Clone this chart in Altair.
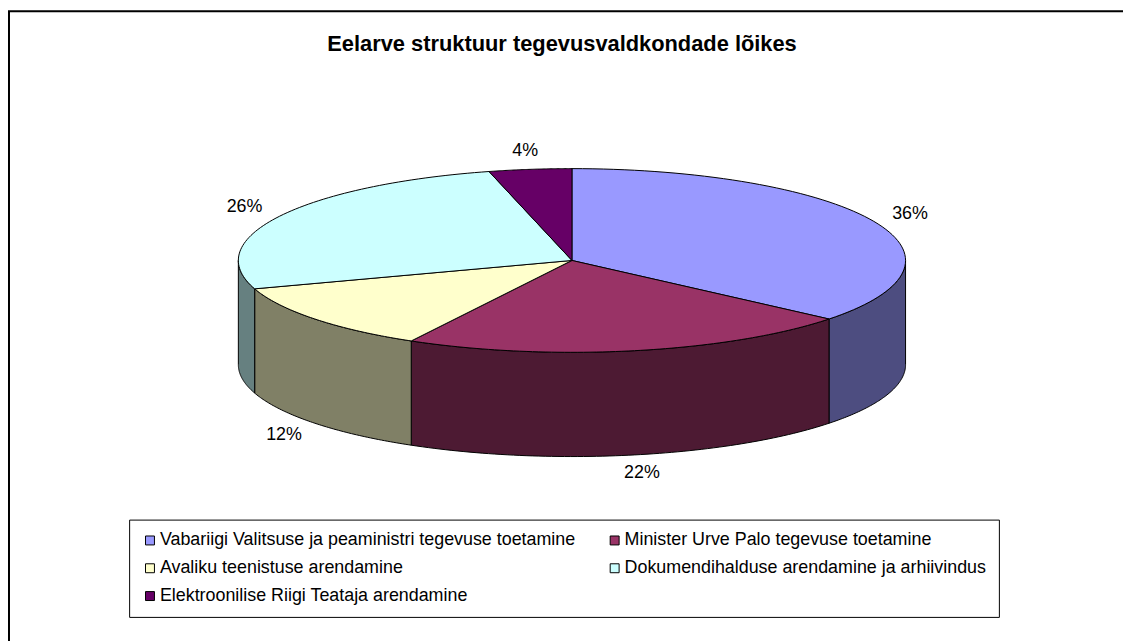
import altair as alt
import pandas as pd

title_text = "Eelarve struktuur tegevusvaldkondade lõikes"
categories = [
    "Vabariigi Valitsuse ja peaministri tegevuse toetamine",
    "Minister Urve Palo tegevuse toetamine",
    "Avaliku teenistuse arendamine",
    "Dokumendihalduse arendamine ja arhiivindus",
    "Elektroonilise Riigi Teataja arendamine",
]
values = [36, 22, 12, 26, 4]
top_colors = ["#9999FF", "#993366", "#FFFFCC", "#CCFFFF", "#660066"]
side_colors = ["#4D4D80", "#4D1A33", "#808066", "#668080", "#330033"]

FONT = "Liberation Sans, Arial, sans-serif"
N = 72          # points per arc
DEPTH = 1.135   # pie thickness in units of the vertical radius

df = pd.DataFrame({"cat": categories, "value": values, "k": list(range(len(values)))})

W, H = 1140, 650
CX, CY, RX, RY = 567.0, 251.0, 336.0, 92.5
xscale = alt.Scale(domain=[(0 - CX) / RX, (W - CX) / RX], nice=False, zero=False)
yscale = alt.Scale(domain=[(CY - H) / RY, CY / RY], nice=False, zero=False)

base = (
    alt.Chart(df)
    .transform_window(cum="sum(value)", sort=[alt.SortField("k")])
    .transform_joinaggregate(total="sum(value)")
    .transform_calculate(
        a0="2*PI*(datum.cum-datum.value)/datum.total",
        a1="2*PI*datum.cum/datum.total",
    )
)

# side faces (front half only)
side = (
    base.transform_calculate(b0="max(datum.a0, PI/2)", b1="min(datum.a1, 3*PI/2)")
    .transform_filter("datum.b1 > datum.b0")
    .transform_calculate(idx=f"sequence(0, {2 * N + 3})")
    .transform_flatten(["idx"])
    .transform_calculate(
        t=f"datum.idx <= {N} ? datum.idx/{N} : (datum.idx <= {2 * N + 1} ? ({2 * N + 1}-datum.idx)/{N} : 0)",
    )
    .transform_calculate(ang="datum.b0 + datum.t*(datum.b1-datum.b0)")
    .transform_calculate(
        px="sin(datum.ang)",
        py=f"cos(datum.ang) - ((datum.idx > {N} && datum.idx <= {2 * N + 1}) ? {DEPTH} : 0)",
    )
    .mark_line(stroke="black", strokeWidth=1, strokeJoin="round")
    .encode(
        x=alt.X("px:Q", scale=xscale, axis=None),
        y=alt.Y("py:Q", scale=yscale, axis=None),
        order=alt.Order("idx:Q"),
        detail="cat:N",
        fill=alt.Fill("cat:N", scale=alt.Scale(domain=categories, range=side_colors), legend=None),
    )
)

# top faces
top = (
    base.transform_calculate(idx=f"sequence(0, {N + 3})")
    .transform_flatten(["idx"])
    .transform_calculate(ang=f"datum.a0 + (datum.idx-1)/{N}*(datum.a1-datum.a0)")
    .transform_calculate(
        px=f"(datum.idx == 0 || datum.idx == {N + 2}) ? 0 : sin(datum.ang)",
        py=f"(datum.idx == 0 || datum.idx == {N + 2}) ? 0 : cos(datum.ang)",
    )
    .mark_line(stroke="black", strokeWidth=1, strokeJoin="round")
    .encode(
        x=alt.X("px:Q", scale=xscale, axis=None),
        y=alt.Y("py:Q", scale=yscale, axis=None),
        order=alt.Order("idx:Q"),
        detail="cat:N",
        fill=alt.Fill(
            "cat:N",
            scale=alt.Scale(domain=categories, range=top_colors),
            sort=categories,
            legend=alt.Legend(
                orient="none", legendX=121, legendY=512, columns=2, direction="horizontal",
                title=None, symbolType="square", symbolSize=81, symbolStrokeColor="black",
                symbolStrokeWidth=1, symbolOpacity=1, labelFont=FONT, labelFontSize=18,
                labelColor="black", labelOffset=1, labelLimit=700,
                strokeColor="black", fillColor="white", padding=12,
                rowPadding=10, columnPadding=30, gridAlign="each",
            ),
        ),
    )
)

labels = (
    base.transform_calculate(m="(datum.a0+datum.a1)/2")
    .transform_calculate(
        lx="1.12*sin(datum.m)",
        ly=f"1.2*cos(datum.m) - (cos(datum.m) < 0 ? {DEPTH} : 0)",
        lab="round(datum.value/datum.total*100) + '%'",
    )
    .mark_text(font=FONT, fontSize=18, color="black", align="center", baseline="middle")
    .encode(
        x=alt.X("lx:Q", scale=xscale, axis=None),
        y=alt.Y("ly:Q", scale=yscale, axis=None),
        text="lab:N",
    )
)

chart = (
    alt.layer(side, top, labels)
    .resolve_scale(fill="independent")
    .properties(
        width=W, height=H,
        title=alt.TitleParams(title_text, font=FONT, fontSize=22, fontWeight="bold",
                              color="black", anchor="middle", offset=-45, dx=-13),
        padding={"left": 1, "top": 1, "right": -18, "bottom": -17},
        autosize=alt.AutoSizeParams(type="none"),
        background="white",
    )
    .configure_view(stroke="black", strokeWidth=2)
)

chart.save("out.html", embed_options={"renderer": "svg", "actions": False})
